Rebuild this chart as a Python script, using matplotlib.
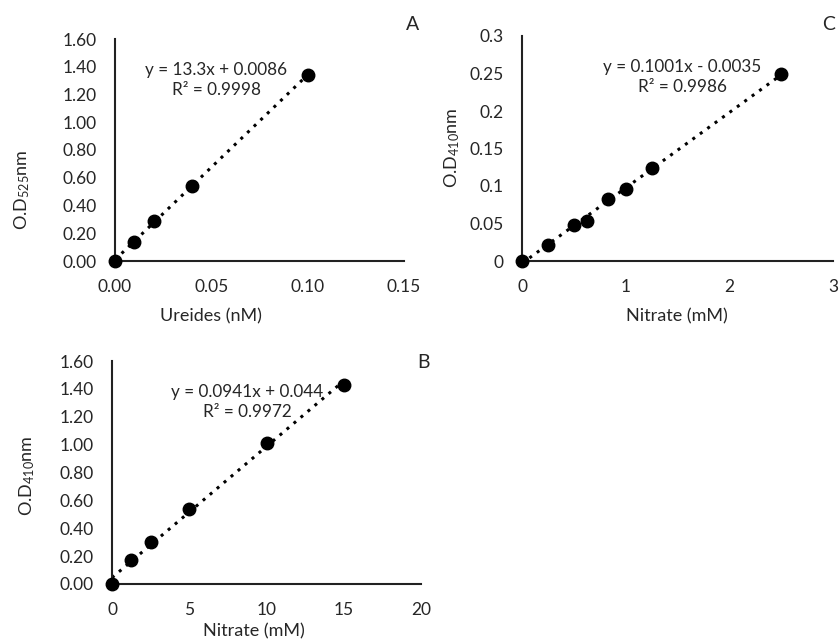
import matplotlib

matplotlib.use("Agg")
import matplotlib.pyplot as plt
import numpy as np

plt.rcParams["font.family"] = ["Lato", "DejaVu Sans"]
plt.rcParams["mathtext.fontset"] = "custom"
plt.rcParams["mathtext.rm"] = "Lato"
plt.rcParams["mathtext.it"] = "Lato:italic"
plt.rcParams["mathtext.bf"] = "Lato:bold"

# Panel A: ureides standard curve
ureides_x = [0.0, 0.01, 0.02, 0.04, 0.10]
ureides_y = [0.0, 0.14, 0.29, 0.54, 1.34]
ureides_eq = "y = 13.3x + 0.0086"
ureides_r2 = "R² = 0.9998"

# Panel B: nitrate (mM) standard curve
nitrate_b_x = [0.0, 1.25, 2.5, 5.0, 10.0, 15.0]
nitrate_b_y = [0.0, 0.172, 0.30, 0.535, 1.012, 1.43]
nitrate_b_eq = "y = 0.0941x + 0.044"
nitrate_b_r2 = "R² = 0.9972"

# Panel C: nitrate low range
nitrate_c_x = [0.0, 0.25, 0.5, 0.625, 0.833, 1.0, 1.25, 2.5]
nitrate_c_y = [0.0, 0.0214, 0.048, 0.054, 0.0824, 0.0957, 0.1245, 0.2487]
nitrate_c_eq = "y = 0.1001x - 0.0035"
nitrate_c_r2 = "R² = 0.9986"

W, H = 839, 641
TEXT = "#262626"


def px_axes(fig, left, top, right, bottom):
    return fig.add_axes([left / W, 1 - bottom / H, (right - left) / W, (bottom - top) / H])


def draw_panel(ax, x, y, xticks, yticks, yfmt, eq, r2, eq_xy):
    coef = np.polyfit(x, y, 1)
    fit_x = np.array([0.0, max(x)])
    ax.plot(fit_x, np.polyval(coef, fit_x), color="black", linestyle=(0, (1, 2)),
            linewidth=2.2, zorder=2)
    ax.plot(x, y, "o", color="black", markersize=9, zorder=3, clip_on=False)

    ax.set_xlim(xticks[0], xticks[-1])
    ax.set_ylim(yticks[0], yticks[-1])
    ax.set_xticks(xticks)
    ax.set_yticks(yticks)
    ax.set_yticklabels([yfmt(v) for v in yticks])
    ax.tick_params(length=0, labelsize=12.5, colors=TEXT)
    ax.tick_params(axis="y", pad=13)
    ax.tick_params(axis="x", pad=13)
    for side in ("top", "right"):
        ax.spines[side].set_visible(False)
    for side in ("left", "bottom"):
        ax.spines[side].set_linewidth(1.5)
        ax.spines[side].set_color("#222222")

    ax.text(eq_xy[0], eq_xy[1], eq + "\n" + r2, transform=ax.transAxes,
            ha="center", va="center", fontsize=12.3, color=TEXT, linespacing=1.3)


fig = plt.figure(figsize=(W / 100, H / 100), dpi=100)

# A
ax_a = px_axes(fig, 115, 39, 404, 261)
draw_panel(ax_a, ureides_x, ureides_y, [0.0, 0.05, 0.10, 0.15],
           [0.0, 0.2, 0.4, 0.6, 0.8, 1.0, 1.2, 1.4, 1.6], lambda v: f"{v:.2f}",
           ureides_eq, ureides_r2, ((216 - 115) / 289, 1 - (80 - 39) / 222))
ax_a.set_xticklabels(["0.00", "0.05", "0.10", "0.15"])

# C
ax_c = px_axes(fig, 522, 36, 833, 261)
draw_panel(ax_c, nitrate_c_x, nitrate_c_y, [0, 1, 2, 3],
           [0, 0.05, 0.1, 0.15, 0.2, 0.25, 0.3], lambda v: f"{v:g}",
           nitrate_c_eq, nitrate_c_r2, ((682 - 522) / 311, 1 - (77 - 36) / 225))

# B
ax_b = px_axes(fig, 112, 361, 421, 584)
draw_panel(ax_b, nitrate_b_x, nitrate_b_y, [0, 5, 10, 15, 20],
           [0.0, 0.2, 0.4, 0.6, 0.8, 1.0, 1.2, 1.4, 1.6], lambda v: f"{v:.2f}",
           nitrate_b_eq, nitrate_b_r2, ((247 - 112) / 309, 1 - (402 - 361) / 223))

# axis titles and panel letters placed in figure pixels
def ftext(x, y, s, **kw):
    fig.text(x / W, 1 - y / H, s, color=TEXT, **kw)

ftext(211, 316, "Ureides (nM)", ha="center", va="center", fontsize=13)
ftext(677, 316, "Nitrate (mM)", ha="center", va="center", fontsize=13)
ftext(254, 631, "Nitrate (mM)", ha="center", va="center", fontsize=13)
ftext(22, 190, "O.D$_{525}$nm", ha="center", va="center", rotation=90, fontsize=13)
ftext(452, 148, "O.D$_{410}$nm", ha="center", va="center", rotation=90, fontsize=13)
ftext(27, 476, "O.D$_{410}$nm", ha="center", va="center", rotation=90, fontsize=13)
ftext(413, 24, "A", ha="center", va="center", fontsize=14)
ftext(829, 25, "C", ha="center", va="center", fontsize=14)
ftext(423, 363, "B", ha="center", va="center", fontsize=14)

fig.savefig("out.png", dpi=100)
